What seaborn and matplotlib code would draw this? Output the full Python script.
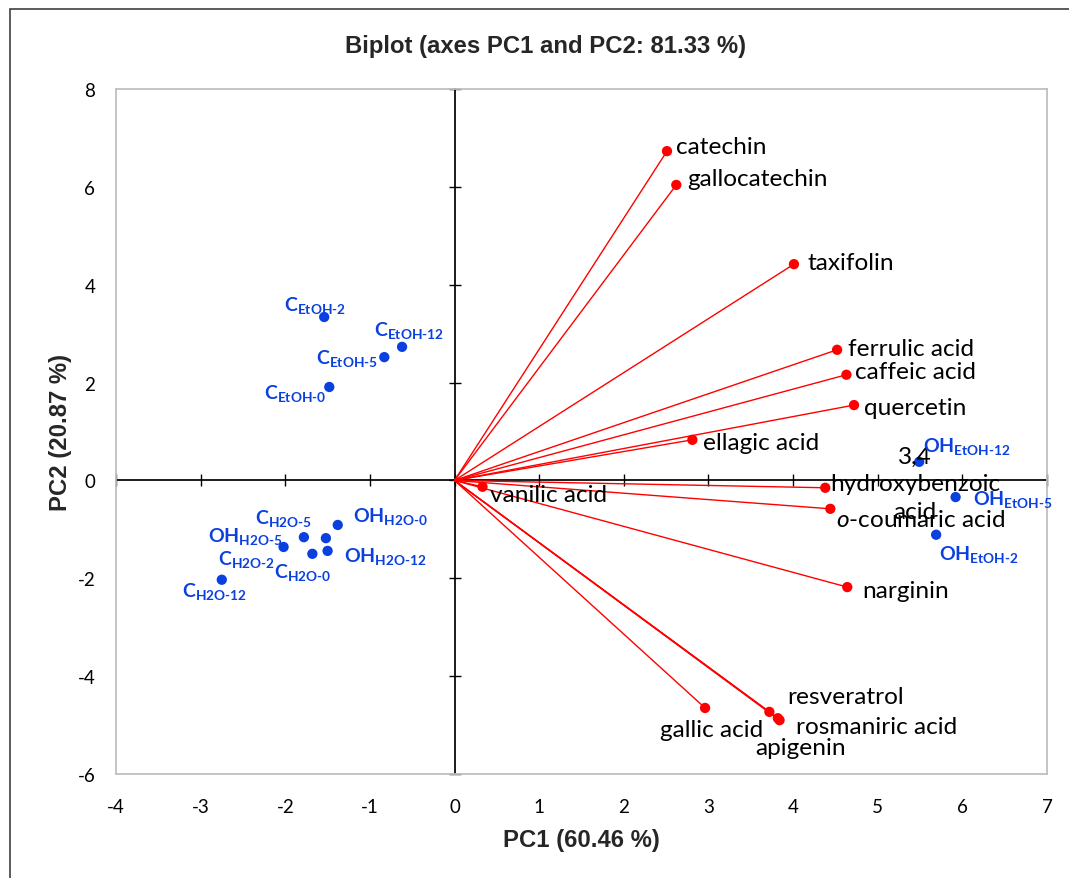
import matplotlib
matplotlib.use("Agg")
import matplotlib.pyplot as plt
import seaborn as sns
import pandas as pd
from matplotlib.patches import Rectangle

# ---------------- data ----------------
var_names = ["catechin", "gallocatechin", "taxifolin", "ferrulic acid", "caffeic acid",
             "quercetin", "ellagic acid", "vanilic acid", "3,4\nhydroxybenzoic\nacid",
             r"$\mathit{o}$-coumaric acid", "narginin", "gallic acid", "resveratrol",
             "rosmaniric acid", "apigenin"]
var_pc1 = [2.51, 2.62, 4.01, 4.52, 4.63, 4.72, 2.81, 0.33, 4.38, 4.44, 4.64, 2.96, 3.72, 3.84, 3.82]
var_pc2 = [6.73, 6.04, 4.42, 2.67, 2.16, 1.54, 0.83, -0.13, -0.15, -0.58, -2.18, -4.65, -4.73, -4.90, -4.86]

obs_main = ["C", "C", "C", "C", "OH", "C", "OH", "C", "C", "OH", "C", "OH", "OH", "OH"]
obs_sub = ["EtOH-2", "EtOH-12", "EtOH-5", "EtOH-0", "H2O-0", "H2O-5", "H2O-5", "H2O-2",
           "H2O-0", "H2O-12", "H2O-12", "EtOH-12", "EtOH-5", "EtOH-2"]
obs_pc1 = [-1.54, -0.62, -0.83, -1.48, -1.38, -1.78, -1.52, -2.02, -1.68, -1.50, -2.75, 5.49, 5.92, 5.69]
obs_pc2 = [3.34, 2.73, 2.52, 1.91, -0.91, -1.16, -1.18, -1.36, -1.50, -1.44, -2.03, 0.38, -0.34, -1.11]

x_ticks = [-4, -3, -2, -1, 0, 1, 2, 3, 4, 5, 6, 7]
y_ticks = [-6, -4, -2, 0, 2, 4, 6, 8]

# label placement (pixels offset, alignment)
var_lab = [("left", 9, 5), ("left", 11, 6), ("left", 14, 2), ("left", 11, 1), ("left", 9, 3),
           ("left", 10, -2), ("left", 11, -3), ("left", 8, -8), ("left", 5, 4), ("left", 6, -11),
           ("left", 15, -3), ("center", 7, -22), ("left", 18, 15), ("left", 16, -6), ("center", 23, -29)]
obs_lab = [("center", -9, 13), ("center", 7, 17), ("right", -6, 0), ("right", -3, -6),
           ("left", 15, 9), ("center", -20, 20), ("right", -43, 3), ("right", -9, -12),
           ("center", -10, -18), ("left", 16, -5), ("center", -7, -11),
           ("left", 4, 16), ("left", 17, -1), ("left", 3, -19)]

RED = "#FF0000"
BLUE = "#0A3FE0"

# ---------------- style ----------------
sns.set_theme(style="white")
plt.rcParams["font.family"] = ["Lato", "DejaVu Sans"]
plt.rcParams["axes.unicode_minus"] = False
plt.rcParams["mathtext.fontset"] = "custom"
plt.rcParams["mathtext.rm"] = "Lato:bold"
plt.rcParams["mathtext.bf"] = "Lato:bold"
plt.rcParams["mathtext.it"] = "Lato:italic"

W, H = 1069, 879
fig = plt.figure(figsize=(W / 100, H / 100), dpi=100)
ax = fig.add_axes([116 / W, 1 - 775 / H, (1047 - 116) / W, (775 - 90) / H])

xlim = (-4, 7)
ylim = (-6, 8)
ax.set_xlim(*xlim)
ax.set_ylim(*ylim)

# frame
for s in ax.spines.values():
    s.set_color("#BFBFBF")
    s.set_linewidth(1.3)
ax.set_xticks(x_ticks)
ax.set_yticks(y_ticks)
ax.tick_params(length=0, labelsize=13.5, colors="black")
ax.tick_params(axis="x", pad=17)
ax.tick_params(axis="y", pad=15)

# zero axes with ticks
xz = (0 - xlim[0]) / (xlim[1] - xlim[0])
yz = (0 - ylim[0]) / (ylim[1] - ylim[0])
sx = ax.secondary_xaxis(yz)
sx.set_xticks(x_ticks)
sx.tick_params(direction="inout", length=9, width=1, labelbottom=False, labeltop=False, color="black")
sx.spines["bottom"].set_color("black")
sx.spines["top"].set_color("black")
sy = ax.secondary_yaxis(xz)
sy.set_yticks(y_ticks)
sy.tick_params(direction="inout", length=9, width=1, labelleft=False, labelright=False, color="black")
sy.spines["left"].set_color("black")
sy.spines["right"].set_color("black")

# vectors
for x, y in zip(var_pc1, var_pc2):
    ax.plot([0, x], [0, y], color=RED, lw=1.0, zorder=3)

df_var = pd.DataFrame({"PC1": var_pc1, "PC2": var_pc2})
df_obs = pd.DataFrame({"PC1": obs_pc1, "PC2": obs_pc2})
sns.scatterplot(data=df_var, x="PC1", y="PC2", color=RED, s=55, edgecolor="none", ax=ax, zorder=4)
sns.scatterplot(data=df_obs, x="PC1", y="PC2", color=BLUE, s=55, edgecolor="none", ax=ax, zorder=4)

for name, x, y, (ha, dx, dy) in zip(var_names, var_pc1, var_pc2, var_lab):
    ax.annotate(name, (x, y), xytext=(dx, dy), textcoords="offset pixels", ha=ha, va="center",
                multialignment="center", fontsize=17.6, color="black", zorder=5, linespacing=1.38)

for m, sub, x, y, (ha, dx, dy) in zip(obs_main, obs_sub, obs_pc1, obs_pc2, obs_lab):
    lab = r"$\text{" + m + r"}_{\text{" + sub + r"}}$"
    ax.annotate(lab, (x, y), xytext=(dx, dy), textcoords="offset pixels", ha=ha, va="center",
                fontsize=14, color=BLUE, zorder=5)

ax.set_xlabel("PC1 (60.46 %)", fontsize=17.2, fontweight="bold", family="Liberation Sans", labelpad=10)
ax.set_ylabel("PC2 (20.87 %)", fontsize=17.2, fontweight="bold", family="Liberation Sans", labelpad=4)
fig.text(546 / W, 1 - 46 / H, "Biplot (axes PC1 and PC2: 81.33 %)", ha="center", va="center",
         fontsize=17.2, fontweight="bold", family="Liberation Sans")

fig.add_artist(Rectangle((9.5 / W, -0.05), 1.1, 1.05 - 9.5 / H, transform=fig.transFigure,
                         fill=False, edgecolor="#404040", lw=1.2))

fig.savefig("out.png", dpi=100)
